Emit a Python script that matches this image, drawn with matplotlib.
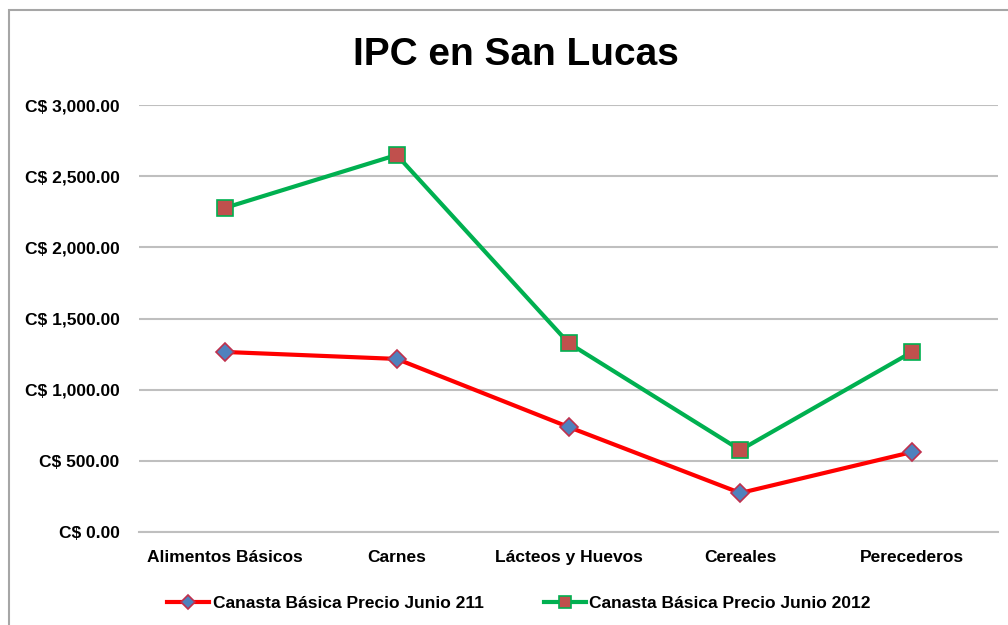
import matplotlib.pyplot as plt
import numpy as np
from matplotlib.patches import Rectangle
from matplotlib.ticker import FuncFormatter

# ------------------------------------------------------------
# Data
# ------------------------------------------------------------

categories = ["Alimentos Básicos", "Carnes", "Lácteos y Huevos", "Cereales", "Perecederos"]
precio_2011 = [1265, 1216, 738, 274, 562]
precio_2012 = [2277, 2649, 1328, 576, 1265]
series_labels = ["Canasta Básica Precio Junio 211", "Canasta Básica Precio Junio 2012"]
y_ticks = [0, 500, 1000, 1500, 2000, 2500, 3000]

plt.rcParams["font.family"] = ["Liberation Sans", "DejaVu Sans"]

fig = plt.figure(figsize=(10.08, 6.25), dpi=100)
ax = fig.add_axes([139 / 1008, 1 - 532 / 625, (998 - 139) / 1008, (532 - 105) / 625])

# outer chart frame
fig.patches.append(Rectangle((9 / 1008, -0.05), 1.2, 1 - 10 / 625 + 0.05,
                             transform=fig.transFigure, fill=False,
                             edgecolor="#a6a6a6", linewidth=1.5))

x = np.arange(len(categories))

ax.plot(x, precio_2011, color="#ff0000", linewidth=3, marker="D", markersize=9,
        markerfacecolor="#4f81bd", markeredgecolor="#c0304d", markeredgewidth=1.2,
        label=series_labels[0], zorder=3)
ax.plot(x, precio_2012, color="#00b050", linewidth=3, marker="s", markersize=11,
        markerfacecolor="#c0504d", markeredgecolor="#00b050", markeredgewidth=1.2,
        label=series_labels[1], zorder=3)

ax.set_xlim(-0.5, len(categories) - 0.5)
ax.set_ylim(0, 3000)
ax.set_yticks(y_ticks)
ax.yaxis.set_major_formatter(FuncFormatter(lambda v, p: f"C$ {v:,.2f}"))
ax.set_xticks(x)
ax.set_xticklabels(categories)

ax.tick_params(axis="both", length=0, labelsize=12.5)
ax.tick_params(axis="y", pad=14)
ax.tick_params(axis="x", pad=13)
for lab in ax.get_xticklabels() + ax.get_yticklabels():
    lab.set_fontweight("bold")

ax.grid(axis="y", color="#bfbfbf", linewidth=1.5)
ax.set_axisbelow(True)
for s in ["top", "right", "left"]:
    ax.spines[s].set_visible(False)
ax.spines["bottom"].set_color("#bfbfbf")
ax.spines["bottom"].set_linewidth(1.5)

fig.text(0.512, 0.912, "IPC en San Lucas", ha="center", va="center",
         fontsize=28, fontweight="bold")

leg = fig.legend(loc="center", bbox_to_anchor=(0.515, 0.035), ncol=2, frameon=False,
                 handlelength=2.4, handletextpad=0.2, columnspacing=3.5,
                 markerscale=0.8, prop={"weight": "bold", "size": 12.5})

fig.savefig("out.png", dpi=100)
